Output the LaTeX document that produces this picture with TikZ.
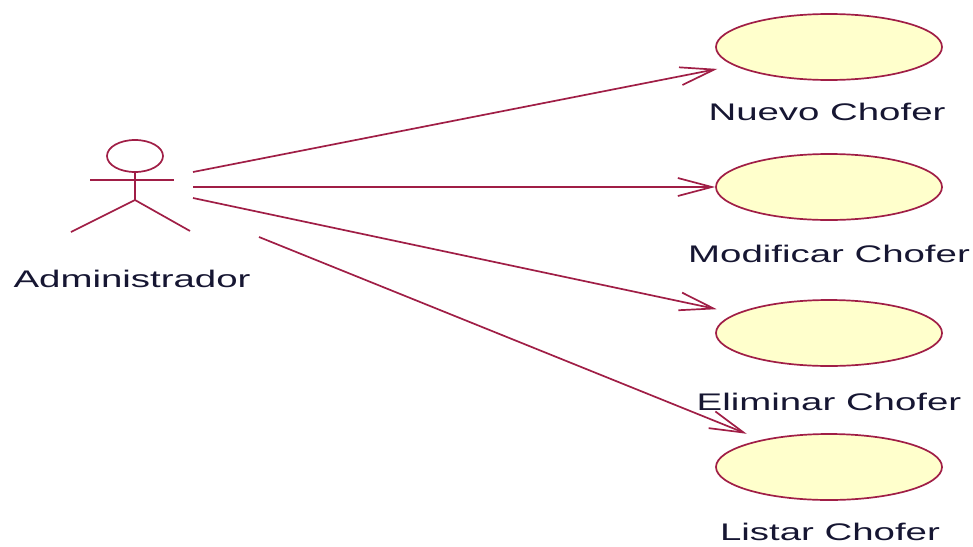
\documentclass[tikz,border=0pt]{standalone}
\usepackage{fontspec}
\newfontfamily\umlfont[FakeStretch=1.6]{Liberation Sans}
\usetikzlibrary{shapes.geometric,arrows.meta}
\definecolor{umlline}{RGB}{160,30,70}
\definecolor{umlfill}{RGB}{255,255,204}
\definecolor{umltext}{RGB}{22,22,50}
\begin{document}
\begin{tikzpicture}[x=1pt,y=-1pt,
    usecase/.style={ellipse,draw=umlline,fill=umlfill,line width=1.7pt,
        minimum width=226pt,minimum height=66pt,inner sep=0pt},
    label/.style={anchor=base,inner sep=0pt,text=umltext,
        font=\umlfont\fontsize{24}{28}\selectfont},
    assoc/.style={draw=umlline,line width=1.7pt,
        -{Straight Barb[length=34pt,width=18pt,line width=1.7pt]}}]
    \useasboundingbox (0,0) rectangle (973,546);
    \begin{scope}[draw=umlline,line width=1.7pt]
        \draw (135,156) ellipse (28 and 16);
        \draw (90,180) -- (174,180);
        \draw (135,172) -- (135,200);
        \draw (71,232) -- (135,200) -- (190,231);
    \end{scope}
    \node[label] (admin) at (132,287) {Administrador};
    \coordinate (a1) at (193,172);
    \coordinate (a2) at (193,187);
    \coordinate (a3) at (193,198);
    \coordinate (a4) at (259,237);
    \node[usecase] (nuevo) at (829,47) {};
    \node[label] (lnuevo) at (827,120) {Nuevo Chofer};
    \node[usecase] (modificar) at (829,187) {};
    \node[label] (lmodificar) at (829,262) {Modificar Chofer};
    \node[usecase] (eliminar) at (829,333) {};
    \node[label] (leliminar) at (829,410) {Eliminar Chofer};
    \node[usecase] (listar) at (829,467) {};
    \node[label] (llistar) at (830,540) {Listar Chofer};
    \draw[assoc,shorten >=17pt] (a1) -- (nuevo);
    \draw[assoc] (a2) -- (modificar);
    \draw[assoc,shorten >=20pt] (a3) -- (eliminar);
    \draw[assoc,shorten >=16pt] (a4) -- (listar);
\end{tikzpicture}
\end{document}
